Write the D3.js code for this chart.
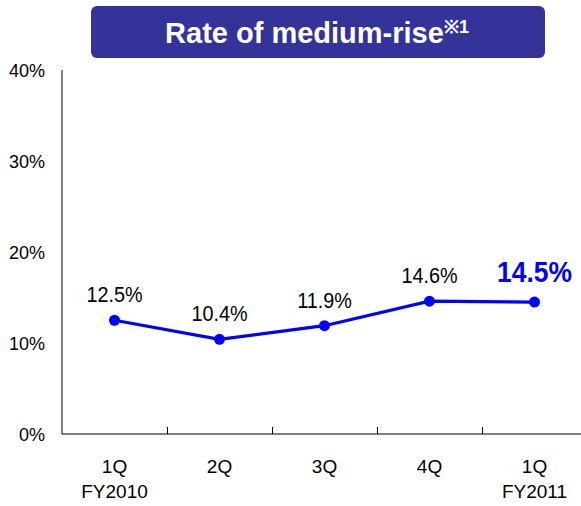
<!DOCTYPE html>
<html><head><meta charset="utf-8">
<script src="https://cdn.jsdelivr.net/npm/d3@7"></script>
<style>body{margin:0;background:#fff}svg{display:block}</style>
</head><body>
<script>
const categories = ["1Q\nFY2010","2Q","3Q","4Q","1Q\nFY2011"];
const values = [12.5, 10.4, 11.9, 14.6, 14.5];
const labels = ["12.5%","10.4%","11.9%","14.6%","14.5%"];
const yTicks = [0,10,20,30,40];
const title = "Rate of medium-rise";
const titleNote = "※1";

const W=581,H=506;
const svg=d3.select("body").append("svg").attr("width",W).attr("height",H);

// title box
svg.append("rect").attr("x",91).attr("y",6).attr("width",454).attr("height",52)
  .attr("rx",6).attr("fill","#333399");
const tt=svg.append("text").attr("x",317).attr("y",43).attr("text-anchor","middle")
  .attr("fill","#fff").attr("font-family","Arial, 'Liberation Sans', sans-serif").attr("font-weight","bold");
tt.append("tspan").attr("font-size",29).text(title);
tt.append("tspan").attr("font-size",18).attr("dy",-10).text(titleNote);

const x=d3.scaleBand().domain(categories).range([62,587]);
const y=d3.scaleLinear().domain([0,40]).range([434,70]);

// axes
svg.append("line").attr("x1",62).attr("x2",62).attr("y1",y(40)).attr("y2",y(0)).attr("stroke","#000");
svg.append("line").attr("x1",62).attr("x2",587).attr("y1",y(0)).attr("y2",y(0)).attr("stroke","#000");
categories.slice(1).forEach(c=>{
  const xx=Math.round(x(c))+0.5;
  svg.append("line").attr("x1",xx).attr("x2",xx).attr("y1",y(0)).attr("y2",y(0)-7).attr("stroke","#000");
});
svg.selectAll(".yt").data(yTicks).join("text").attr("x",45).attr("y",d=>y(d)+7)
  .attr("text-anchor","end").attr("font-family","Arial, 'Liberation Sans', sans-serif")
  .attr("font-size",18).attr("fill","#000").text(d=>d+"%");

// x labels
categories.forEach(c=>{
  const parts=c.split("\n");
  const cx=x(c)+x.bandwidth()/2;
  parts.forEach((p,i)=>{
    svg.append("text").attr("x",cx).attr("y",473+i*25).attr("text-anchor","middle")
      .attr("font-family","Arial, 'Liberation Sans', sans-serif").attr("font-size",19).attr("fill","#000").text(p);
  });
});

// line
const line=d3.line().x((d,i)=>x(categories[i])+x.bandwidth()/2).y(d=>y(d));
svg.append("path").datum(values).attr("d",line).attr("fill","none").attr("stroke","#0000ff").attr("stroke-width",3.2);
svg.selectAll(".pt").data(values).join("circle").attr("cx",(d,i)=>x(categories[i])+x.bandwidth()/2)
  .attr("cy",d=>y(d)).attr("r",5.5).attr("fill","#0000ff");

// data labels
values.forEach((v,i)=>{
  const cx=x(categories[i])+x.bandwidth()/2;
  const last=i===values.length-1;
  const g=svg.append("g").attr("transform",`translate(${cx},${y(v)-(last?20:18)}) scale(0.88,1)`);
  g.append("text").attr("text-anchor","middle")
    .attr("font-family","Arial, 'Liberation Sans', sans-serif")
    .attr("font-size",last?30:22.5).attr("font-weight",last?"bold":"normal")
    .attr("fill",last?"#0000ff":"#000").text(labels[i]);
});
</script>
</body></html>
